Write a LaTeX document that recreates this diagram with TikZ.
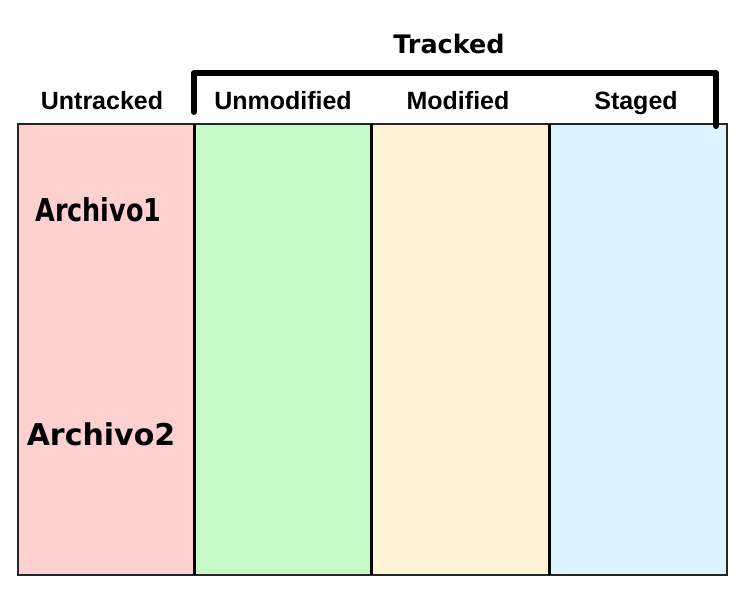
\documentclass[tikz,border=0pt]{standalone}
\usepackage{fontspec}
\setmainfont{Liberation Sans}
\newfontfamily\filefont{DejaVu Sans}
\begin{document}
\begin{tikzpicture}[x=1pt,y=-1pt,
  col/.style={draw=black!85,line width=1.2pt,inner sep=0pt,anchor=north west},
  head/.style={font=\bfseries\fontsize{25}{30}\selectfont,inner sep=0pt,anchor=base},
  file/.style={font=\filefont\bfseries\fontsize{#1}{#1}\selectfont,inner sep=0pt,anchor=base},
  divider/.style={line width=3pt,black}]
\useasboundingbox (0,0) rectangle (742,590);
\definecolor{cpink}{RGB}{255,208,208}
\definecolor{cgreen}{RGB}{198,250,198}
\definecolor{cyellow}{RGB}{255,245,214}
\definecolor{cblue}{RGB}{219,244,255}
% the four state columns
\node[col,fill=cpink,minimum width=176pt,minimum height=450pt] (untr) at (18,124) {};
\node[col,fill=cgreen,minimum width=177pt,minimum height=450pt] (unmod) at (194,124) {};
\node[col,fill=cyellow,minimum width=178pt,minimum height=450pt] (mod) at (371,124) {};
\node[col,fill=cblue,minimum width=177pt,minimum height=450pt] (stg) at (549,124) {};
\draw[draw=black!85,line width=1.2pt] (untr.north west) rectangle (stg.south east);
\draw[divider] (unmod.north west) -- (unmod.south west);
\draw[divider] (mod.north west) -- (mod.south west);
\draw[divider] (stg.north west) -- (stg.south west);
% column headings
\node[head] (hu) at (102,109) {Untracked};
\node[head] (hn) at (283,109) {Unmodified};
\node[head] (hm) at (458,109) {Modified};
\node[head] (hs) at (636,109) {Staged};
\node[file=25.5] (ht) at (449,53) {Tracked};
% bracket grouping the tracked states
\coordinate (b1) at (194,112);
\coordinate (b2) at (716,126);
\draw[line width=6pt,line cap=round,line join=round] (b1) -- (194,73) -- (716,73) -- (b2);
% files
\node[file=31.5] (a1) at (98.5,221) {\scalebox{0.81}[1]{Archivo1}};
\node[file=30] (a2) at (101,445) {Archivo2};
\end{tikzpicture}
\end{document}
